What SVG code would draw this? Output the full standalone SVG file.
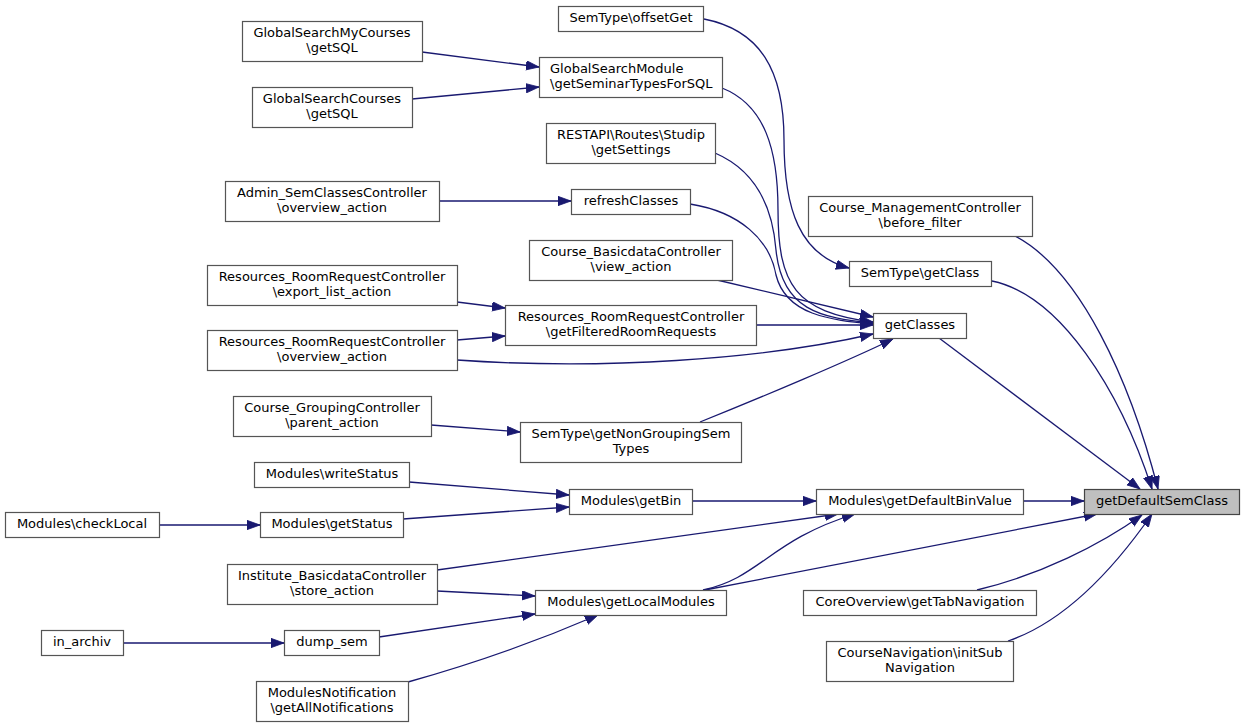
<svg xmlns="http://www.w3.org/2000/svg" width="1244" height="727" viewBox="0 0 1244 727">
<style>
.n rect{fill:#ffffff;stroke:#555555;stroke-width:1.2}
.root rect{fill:#bfbfbf;stroke:#444444;stroke-width:1.2}
text{font-family:"DejaVu Sans",Verdana,sans-serif;font-size:13px;fill:#000000;text-anchor:middle}
.e path{fill:none;stroke:#191970;stroke-width:1.3;marker-end:url(#ah)}
</style>
<defs>
<marker id="ah" markerUnits="userSpaceOnUse" markerWidth="14" markerHeight="10" refX="13" refY="4.65" orient="auto">
<path d="M0,0 L13,4.65 L0,9.3 z" fill="#191970" stroke="#191970" stroke-width="0.8"/>
</marker>
</defs>
<rect width="1244" height="727" fill="#ffffff"/>
<g class="e" id="edges">
<path d="M422,52 L539,67"/>
<path d="M412,99 L539,87"/>
<path d="M439,201 L571,201"/>
<path d="M704,19 C760,30 784,70 784,140 C784,210 800,255 849,268"/>
<path d="M722,88 C765,105 778,150 778,210 C778,285 795,312 873,322"/>
<path d="M715,153 C750,168 772,200 776,250 C782,310 820,318 873,323"/>
<path d="M690,204 C740,212 770,240 776,275 C786,315 830,320 873,324"/>
<path d="M717,280 L873,317"/>
<path d="M756,325 L873,325"/>
<path d="M457,360 C600,370 760,360 873,334"/>
<path d="M700,422 C760,398 850,360 893,339"/>
<path d="M457,302 L505,308"/>
<path d="M457,340 L505,336"/>
<path d="M431,425 L520,432"/>
<path d="M992,281 C1060,295 1120,390 1152,489"/>
<path d="M1015,236 C1080,270 1130,380 1158,489"/>
<path d="M939,338 L1140,489"/>
<path d="M1023,501 L1084,501"/>
<path d="M692,501 L816,501"/>
<path d="M409,482 L569,495"/>
<path d="M403,519 L569,507"/>
<path d="M159,525 L260,525"/>
<path d="M437,570 L838,514"/>
<path d="M703,590 C760,578 770,540 855,514"/>
<path d="M705,590 L1097,514"/>
<path d="M437,591 L535,596"/>
<path d="M379,637 L535,614"/>
<path d="M123,643 L284,643"/>
<path d="M408,682 C480,662 540,640 598,615"/>
<path d="M977,590 C1040,575 1100,545 1142,515"/>
<path d="M1008,641 C1070,620 1120,560 1152,514"/>
</g>
<g class="n" id="n1"><rect x="242.5" y="21.5" width="180" height="40"/><text x="332" y="37">GlobalSearchMyCourses</text><text x="332" y="52">\getSQL</text></g>
<g class="n" id="n2"><rect x="252.5" y="87.5" width="160" height="40"/><text x="332" y="103">GlobalSearchCourses</text><text x="332" y="118">\getSQL</text></g>
<g class="n" id="n3"><rect x="225.5" y="181.5" width="214" height="40"/><text x="332" y="197">Admin_SemClassesController</text><text x="332" y="212">\overview_action</text></g>
<g class="n" id="n4"><rect x="558.5" y="6.5" width="145" height="25"/><text x="631" y="22">SemType\offsetGet</text></g>
<g class="n" id="n5"><rect x="539.5" y="57.5" width="183" height="40"/><text x="550" y="73" style="text-anchor:start">GlobalSearchModule</text><text x="550" y="88" style="text-anchor:start">\getSeminarTypesForSQL</text></g>
<g class="n" id="n6"><rect x="546.5" y="123.5" width="169" height="40"/><text x="631" y="139">RESTAPI\Routes\Studip</text><text x="631" y="154">\getSettings</text></g>
<g class="n" id="n7"><rect x="571.5" y="189.5" width="119" height="25"/><text x="631" y="205">refreshClasses</text></g>
<g class="n" id="n8"><rect x="529.5" y="240.5" width="203" height="40"/><text x="631" y="256">Course_BasicdataController</text><text x="631" y="271">\view_action</text></g>
<g class="n" id="n9"><rect x="207.5" y="265.5" width="250" height="40"/><text x="332" y="281">Resources_RoomRequestController</text><text x="332" y="296">\export_list_action</text></g>
<g class="n" id="n10"><rect x="207.5" y="330.5" width="250" height="40"/><text x="332" y="346">Resources_RoomRequestController</text><text x="332" y="361">\overview_action</text></g>
<g class="n" id="n11"><rect x="505.5" y="305.5" width="251" height="40"/><text x="631" y="321">Resources_RoomRequestController</text><text x="631" y="336">\getFilteredRoomRequests</text></g>
<g class="n" id="n12"><rect x="233.5" y="396.5" width="198" height="40"/><text x="332" y="412">Course_GroupingController</text><text x="332" y="427">\parent_action</text></g>
<g class="n" id="n13"><rect x="520.5" y="422.5" width="221" height="40"/><text x="631" y="438">SemType\getNonGroupingSem</text><text x="631" y="453">Types</text></g>
<g class="n" id="n14"><rect x="254.5" y="462.5" width="155" height="25"/><text x="332" y="478">Modules\writeStatus</text></g>
<g class="n" id="n15"><rect x="5.5" y="512.5" width="154" height="25"/><text x="82" y="528">Modules\checkLocal</text></g>
<g class="n" id="n16"><rect x="260.5" y="512.5" width="143" height="25"/><text x="332" y="528">Modules\getStatus</text></g>
<g class="n" id="n17"><rect x="227.5" y="564.5" width="210" height="40"/><text x="332" y="580">Institute_BasicdataController</text><text x="332" y="595">\store_action</text></g>
<g class="n" id="n18"><rect x="41.5" y="630.5" width="82" height="25"/><text x="82" y="646">in_archiv</text></g>
<g class="n" id="n19"><rect x="284.5" y="630.5" width="95" height="25"/><text x="332" y="646">dump_sem</text></g>
<g class="n" id="n20"><rect x="256.5" y="681.5" width="152" height="40"/><text x="332" y="697">ModulesNotification</text><text x="332" y="712">\getAllNotifications</text></g>
<g class="n" id="n21"><rect x="569.5" y="489.5" width="123" height="25"/><text x="631" y="505">Modules\getBin</text></g>
<g class="n" id="n22"><rect x="535.5" y="590.5" width="191" height="25"/><text x="631" y="606">Modules\getLocalModules</text></g>
<g class="n" id="n23"><rect x="816.5" y="489.5" width="207" height="25"/><text x="920" y="505">Modules\getDefaultBinValue</text></g>
<g class="root" id="n24"><rect x="1084.5" y="489.5" width="155" height="25"/><text x="1162" y="505">getDefaultSemClass</text></g>
<g class="n" id="n25"><rect x="803.5" y="590.5" width="233" height="25"/><text x="920" y="606">CoreOverview\getTabNavigation</text></g>
<g class="n" id="n26"><rect x="826.5" y="641.5" width="187" height="40"/><text x="920" y="657">CourseNavigation\initSub</text><text x="920" y="672">Navigation</text></g>
<g class="n" id="n27"><rect x="808.5" y="196.5" width="224" height="40"/><text x="920" y="212">Course_ManagementController</text><text x="920" y="227">\before_filter</text></g>
<g class="n" id="n28"><rect x="849.5" y="261.5" width="142" height="25"/><text x="920" y="277">SemType\getClass</text></g>
<g class="n" id="n29"><rect x="873.5" y="313.5" width="93" height="25"/><text x="920" y="329">getClasses</text></g>
</svg>
